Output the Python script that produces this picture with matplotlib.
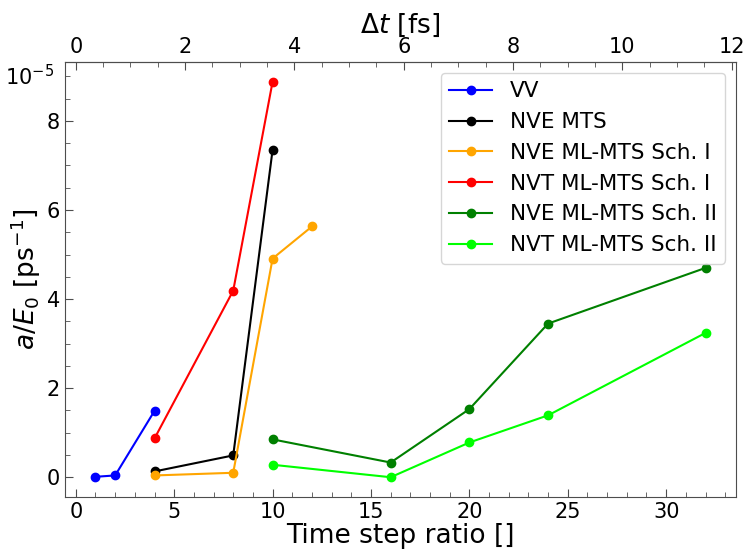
import matplotlib
matplotlib.use("Agg")
import matplotlib.pyplot as plt
from matplotlib.ticker import MultipleLocator

# Data (a/E0 in units of 1e-5 ps^-1)
vv_x = [1, 2, 4]
vv_y = [0.01, 0.04, 1.49]
nve_mts_x = [4, 8, 10]
nve_mts_y = [0.13, 0.49, 7.35]
nve_ml1_x = [4, 8, 10, 12]
nve_ml1_y = [0.04, 0.10, 4.91, 5.63]
nvt_ml1_x = [4, 8, 10]
nvt_ml1_y = [0.87, 4.19, 8.88]
nve_ml2_x = [10, 16, 20, 24, 32]
nve_ml2_y = [0.85, 0.33, 1.53, 3.45, 4.70]
nvt_ml2_x = [10, 16, 20, 24, 32]
nvt_ml2_y = [0.28, 0.00, 0.78, 1.39, 3.24]
labels = ["VV", "NVE MTS", "NVE ML-MTS Sch. I", "NVT ML-MTS Sch. I",
          "NVE ML-MTS Sch. II", "NVT ML-MTS Sch. II"]
colors = ["blue", "black", "orange", "red", "green", "lime"]
DT_FS = 0.36  # fs per unit of time step ratio

fig = plt.figure(figsize=(7.46, 5.51), dpi=100)
ax = fig.add_axes([0.0871, 0.098, 0.8995, 0.7895])

series = [(vv_x, vv_y), (nve_mts_x, nve_mts_y), (nve_ml1_x, nve_ml1_y),
          (nvt_ml1_x, nvt_ml1_y), (nve_ml2_x, nve_ml2_y), (nvt_ml2_x, nvt_ml2_y)]
for (x, y), lab, c in zip(series, labels, colors):
    ax.plot(x, y, marker="o", color=c, label=lab, lw=1.5, ms=6)

spine_col = "0.3"
for s in ax.spines.values():
    s.set_color(spine_col)

ax.xaxis.set_major_locator(MultipleLocator(5))
ax.xaxis.set_minor_locator(MultipleLocator(1))
ax.yaxis.set_major_locator(MultipleLocator(2))
ax.yaxis.set_minor_locator(MultipleLocator(0.5))
ax.tick_params(which="both", direction="in", colors=spine_col, labelcolor="black",
               labelsize=15, top=False, right=False)
ax.tick_params(which="major", length=6)
ax.tick_params(which="minor", length=3.5)

ax.set_xlabel("Time step ratio []", fontsize=19, labelpad=1)
ax.set_ylabel(r"$a/E_0$ [ps$^{-1}$]", fontsize=19, labelpad=3)

ax.text(-0.016, 8.81, r"$10^{-5}$", transform=ax.get_yaxis_transform(),
        ha="right", va="baseline", fontsize=15)

sec = ax.secondary_xaxis("top", functions=(lambda v: v * DT_FS, lambda v: v / DT_FS))
sec.xaxis.set_major_locator(MultipleLocator(2))
sec.xaxis.set_minor_locator(MultipleLocator(0.5))
sec.tick_params(which="both", direction="in", colors=spine_col, labelcolor="black",
                labelsize=15)
sec.tick_params(which="major", length=6)
sec.tick_params(which="minor", length=3.5)
sec.spines["top"].set_color(spine_col)
sec.set_xlabel(r"$\Delta t$ [fs]", fontsize=19, labelpad=3)

ax.legend(loc="upper right", fontsize=15.5)

fig.savefig("out.png", dpi=100)
